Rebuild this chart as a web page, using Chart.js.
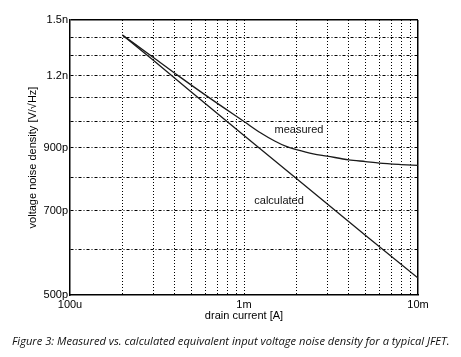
<!DOCTYPE html>
<html><head><meta charset="utf-8">
<script src="https://cdn.jsdelivr.net/npm/chart.js@4/dist/chart.umd.min.js"></script>
<style>html,body{margin:0;padding:0;background:#fff}canvas{display:block}</style>
</head><body>
<canvas id="c" width="461" height="357"></canvas>
<script>
// ---- data ----
const measuredCurrent = [200e-6, 300e-6, 420e-6, 630e-6, 1.0e-3, 1.25e-3, 1.5e-3, 1.75e-3, 2e-3, 2.5e-3, 3e-3, 4e-3, 5e-3, 6e-3, 8e-3, 10e-3];
const measuredNoise   = [1.413e-9, 1.293e-9, 1.2e-9, 1.1e-9, 1.0e-9, 0.955e-9, 0.925e-9, 0.905e-9, 0.894e-9, 0.879e-9, 0.871e-9, 0.858e-9, 0.852e-9, 0.847e-9, 0.842e-9, 0.839e-9];
const calculatedCurrent = [200e-6, 300e-6, 500e-6, 1e-3, 2e-3, 5e-3, 10e-3];
const calculatedNoise   = [1.413e-9, 1.278e-9, 1.124e-9, 0.946e-9, 0.796e-9, 0.634e-9, 0.535e-9];

const xGridValues = [1e-4,2e-4,3e-4,4e-4,5e-4,6e-4,7e-4,8e-4,9e-4,1e-3,2e-3,3e-3,4e-3,5e-3,6e-3,7e-3,8e-3,9e-3,1e-2];
const xTickValues = [1e-4, 1e-3, 1e-2];
const xTickLabels = ['100u', '1m', '10m'];
const yGridValues = [500e-12,600e-12,700e-12,800e-12,900e-12,1.0e-9,1.1e-9,1.2e-9,1.3e-9,1.4e-9,1.5e-9];
const yTickValues = [500e-12, 700e-12, 900e-12, 1.2e-9, 1.5e-9];
const yTickLabels = ['500p', '700p', '900p', '1.2n', '1.5n'];

const seriesNames = ['measured', 'calculated'];
const xTitle = 'drain current [A]';
const yTitle = 'voltage noise density [V/\u221AHz]';
const caption = 'Figure 3: Measured vs. calculated equivalent input voltage noise density for a typical JFET.';

// label anchor positions (in data units)
const seriesLabelAnchors = [{x: 2.07e-3, y: 0.9665e-9}, {x: 1.59e-3, y: 0.729e-9}];

const same = (a, b) => Math.abs(a / b - 1) < 1e-6;
const labelFor = (vals, labs, v) => { const i = vals.findIndex(t => same(t, v)); return i < 0 ? '' : labs[i]; };

const FONT = '"Liberation Sans", Arial, sans-serif';

const seriesLabelPlugin = {
  id: 'seriesLabels',
  afterDatasetsDraw(chart) {
    const {ctx, scales: {x, y}} = chart;
    ctx.save();
    ctx.font = '11px ' + FONT;
    ctx.fillStyle = '#111';
    ctx.textAlign = 'center';
    ctx.textBaseline = 'middle';
    seriesNames.forEach((n, i) => {
      const a = seriesLabelAnchors[i];
      ctx.fillText(n, x.getPixelForValue(a.x), y.getPixelForValue(a.y));
    });
    ctx.restore();
  }
};

const captionPlugin = {
  id: 'caption',
  afterDraw(chart) {
    const ctx = chart.ctx;
    ctx.save();
    const fam = '"Open Sans", "Noto Sans", sans-serif';
    ctx.font = 'italic 11px ' + fam;
    const w = ctx.measureText(caption).width;
    const size = 11 * 438 / w;
    ctx.font = 'italic ' + size.toFixed(2) + 'px ' + fam;
    ctx.fillStyle = '#111';
    ctx.textAlign = 'left';
    ctx.textBaseline = 'middle';
    ctx.fillText(caption, 12, 342);
    ctx.restore();
  }
};

Chart.defaults.color = '#000';
Chart.defaults.font.family = FONT;
Chart.defaults.font.size = 11;

new Chart(document.getElementById('c'), {
  type: 'line',
  data: {
    datasets: [
      {
        label: seriesNames[0],
        data: measuredCurrent.map((v, i) => ({x: v, y: measuredNoise[i]})),
        borderColor: '#1a1a1a', borderWidth: 1.3, pointRadius: 0,
        cubicInterpolationMode: 'monotone', fill: false
      },
      {
        label: seriesNames[1],
        data: calculatedCurrent.map((v, i) => ({x: v, y: calculatedNoise[i]})),
        borderColor: '#1a1a1a', borderWidth: 1.3, pointRadius: 0,
        tension: 0, fill: false
      }
    ]
  },
  options: {
    responsive: false,
    animation: false,
    devicePixelRatio: 1,
    layout: {padding: {left: 0, top: 20, right: 43, bottom: 32}},
    plugins: {legend: {display: false}, tooltip: {enabled: false}},
    scales: {
      x: {
        type: 'logarithmic',
        min: 1e-4, max: 1e-2,
        afterBuildTicks: s => { s.ticks = xGridValues.map(v => ({value: v})); },
        afterFit: s => { s.height = 30; },
        ticks: {
          autoSkip: false, maxRotation: 0, padding: 3, color: '#000',
          font: {size: 11, family: FONT},
          callback: v => labelFor(xTickValues, xTickLabels, v)
        },
        grid: {
          drawTicks: false,
          lineWidth: c => (c.tick && same(c.tick.value, 1e-2)) ? 1.5 : 1,
          color: c => (c.tick && same(c.tick.value, 1e-4)) ? 'rgba(0,0,0,0)' : '#000'
        },
        border: {
          display: true, color: '#000', width: 1.5,
          dash: c => (c.tick && same(c.tick.value, 1e-2)) ? [] : [1, 2]
        },
        title: {display: true, text: xTitle, color: '#000', font: {size: 11, family: FONT}, padding: {top: 0, bottom: 2}}
      },
      y: {
        type: 'logarithmic',
        min: 500e-12, max: 1.5e-9,
        afterBuildTicks: s => { s.ticks = yGridValues.map(v => ({value: v})); },
        afterFit: s => { s.width = 70; },
        ticks: {
          autoSkip: false, padding: 2, color: '#000',
          font: {size: 11, family: FONT},
          callback: v => labelFor(yTickValues, yTickLabels, v)
        },
        grid: {
          drawTicks: false,
          lineWidth: c => (c.tick && same(c.tick.value, 1.5e-9)) ? 1.5 : 1,
          color: c => (c.tick && same(c.tick.value, 500e-12)) ? 'rgba(0,0,0,0)' : '#000'
        },
        border: {
          display: true, color: '#000', width: 1.5,
          dash: c => (c.tick && same(c.tick.value, 1.5e-9)) ? [] : [3, 2, 1, 2]
        },
        title: {display: true, text: yTitle, color: '#000', font: {size: 11, family: FONT}, padding: {top: 26, bottom: 0}}
      }
    }
  },
  plugins: [seriesLabelPlugin, captionPlugin]
});
</script>
</body></html>
